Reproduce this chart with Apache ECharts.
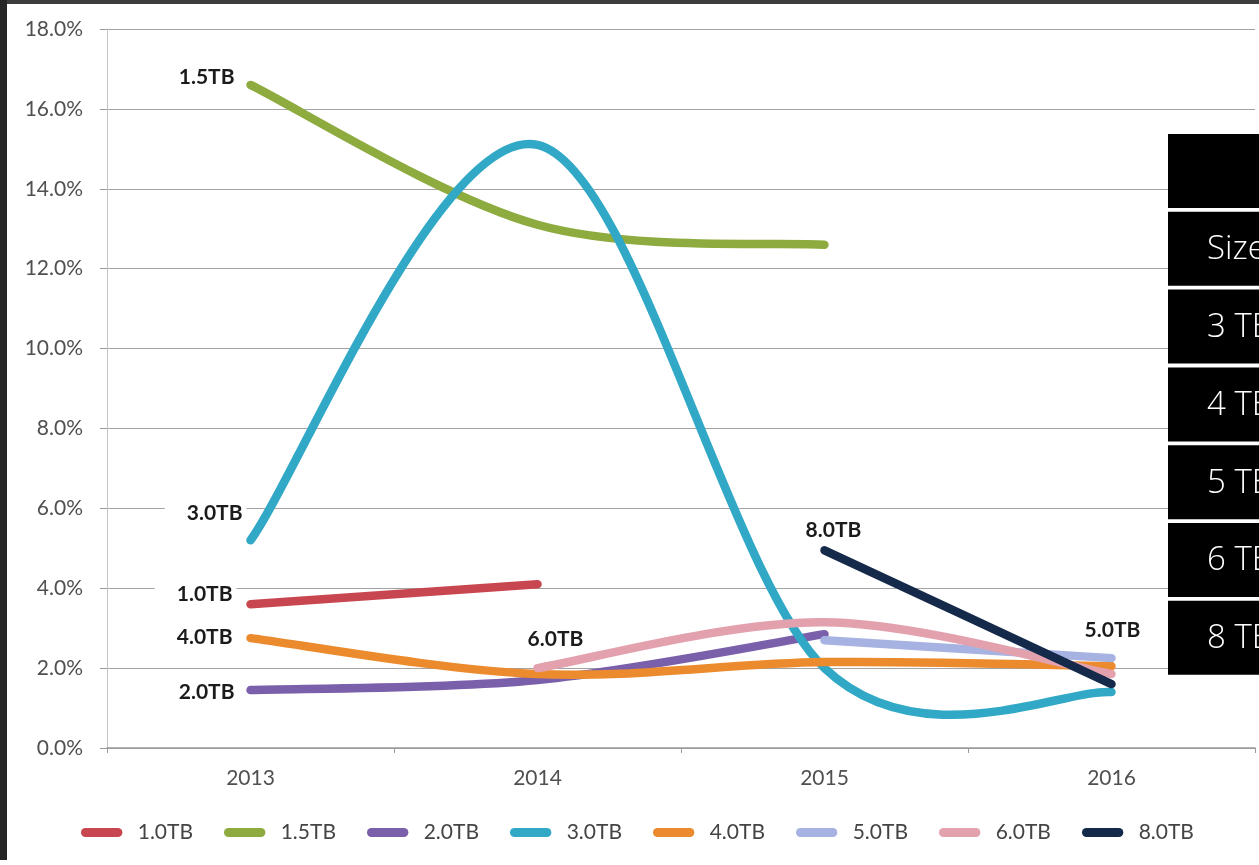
<!DOCTYPE html>
<html>
<head>
<meta charset="utf-8">
<title>Drive failure rate by capacity</title>
<script src="https://cdn.jsdelivr.net/npm/echarts@6/dist/echarts.min.js"></script>
<style>
  html, body { margin: 0; padding: 0; background: #fff; }
  #chart { width: 1259px; height: 865px; }
</style>
</head>
<body>
<div id="chart"></div>
<script>
// ---- data -------------------------------------------------------------
const years = ['2013', '2014', '2015', '2016'];
const capacities = ['1.0TB', '1.5TB', '2.0TB', '3.0TB', '4.0TB', '5.0TB', '6.0TB', '8.0TB'];

// annual failure rate (%) per drive size, null = no drives that year
const rate1TB  = [3.6, 4.1, null, null];
const rate15TB = [16.6, 13.1, 12.6, null];
const rate2TB  = [1.45, 1.7, 2.85, null];
const rate3TB  = [5.2, 15.1, 2.0, 1.4];
const rate4TB  = [2.75, 1.85, 2.15, 2.05];
const rate5TB  = [null, null, 2.7, 2.25];
const rate6TB  = [null, 2.0, 3.15, 1.85];
const rate8TB  = [null, null, 4.95, 1.6];

const yTickValues = [0, 2, 4, 6, 8, 10, 12, 14, 16, 18];
const tableRows = ['', 'Size', '3 TB', '4 TB', '5 TB', '6 TB', '8 TB'];

// ---- styling ----------------------------------------------------------
const rates = [rate1TB, rate15TB, rate2TB, rate3TB, rate4TB, rate5TB, rate6TB, rate8TB];
const colors = ['#c8464f', '#8dab3e', '#7a5fab', '#30a8c6', '#ec8b2e', '#a6b2e1', '#e3a1ae', '#15294a'];

// which point each name tag sits beside, and how it is offset from it
const tagPlacement = [
  { at: 0, dx: -14, dy: -10, align: 'right' },
  { at: 0, dx: -12, dy: -8,  align: 'right' },
  { at: 0, dx: -12, dy: 2,   align: 'right' },
  { at: 0, dx: -4,  dy: -27, align: 'right' },
  { at: 0, dx: -14, dy: -1,  align: 'right' },
  { at: 3, dx: -8,  dy: -28, align: 'center' },
  { at: 1, dx: 9,   dy: -29, align: 'center' },
  { at: 2, dx: 0,   dy: -20, align: 'center' }
];

const AXIS_FONT = 'Lato';
const PILL = 'path://M5,0 L41,0 A5,5 0 0 1 41,10 L5,10 A5,5 0 0 1 5,0 Z';

// Excel-style smoothed line: cubic Bezier segments with Catmull-Rom tangents
function smoothPath(pts) {
  let d = 'M' + pts[0][0] + ' ' + pts[0][1];
  for (let i = 0; i < pts.length - 1; i++) {
    const p0 = pts[Math.max(i - 1, 0)];
    const p1 = pts[i];
    const p2 = pts[i + 1];
    const p3 = pts[Math.min(i + 2, pts.length - 1)];
    const c1x = p1[0] + (p2[0] - p0[0]) / 6;
    const c1y = p1[1] + (p2[1] - p0[1]) / 6;
    const c2x = p2[0] - (p3[0] - p1[0]) / 6;
    const c2y = p2[1] - (p3[1] - p1[1]) / 6;
    d += ' C' + c1x + ' ' + c1y + ' ' + c2x + ' ' + c2y + ' ' + p2[0] + ' ' + p2[1];
  }
  return d;
}

function buildSeries(name, values, color, tag) {
  const points = [];
  values.forEach((v, i) => { if (v != null) points.push([i, v]); });
  return {
    type: 'custom',
    name: name,
    coordinateSystem: 'cartesian2d',
    data: points,
    encode: { x: 0, y: 1 },
    itemStyle: { color: color },
    renderItem: function (params, api) {
      if (params.dataIndex !== 0) return null;
      const px = points.map(p => api.coord(p));
      const anchor = api.coord([tag.at, values[tag.at]]);
      return {
        type: 'group',
        children: [
          {
            type: 'path',
            shape: { pathData: smoothPath(px) },
            style: { fill: 'none', stroke: color, lineWidth: 8.5, lineCap: 'round', lineJoin: 'round' }
          },
          {
            type: 'text',
            x: anchor[0] + tag.dx,
            y: anchor[1] + tag.dy,
            style: {
              text: name,
              fill: '#1b1b1b',
              fontFamily: AXIS_FONT,
              fontWeight: 'bold',
              fontSize: 21,
              align: tag.align,
              verticalAlign: 'middle',
              backgroundColor: '#fff',
              padding: [3, 4, 3, 22]
            }
          }
        ]
      };
    }
  };
}

// side table cells (partially cut off at the right edge)
const tableGraphics = [];
tableRows.forEach((label, i) => {
  const top = 134 + i * 77.8;
  tableGraphics.push({
    type: 'rect', left: 1168, top: top, z: 100,
    shape: { width: 100, height: 74 },
    style: { fill: '#000' }
  });
  if (label) {
    tableGraphics.push({
      type: 'text', x: 1207, y: top + 38, z: 101,
      style: { text: label, fill: '#fff', fontFamily: 'Open Sans', fontWeight: 300, fontSize: 33, align: 'left', verticalAlign: 'middle' }
    });
  }
});

const chart = echarts.init(document.getElementById('chart'), null, { renderer: 'canvas' });

chart.setOption({
  backgroundColor: '#ffffff',
  animation: false,
  color: colors,
  grid: { left: 107, right: 4, top: 29, bottom: 117, containLabel: false },
  legend: {
    data: capacities,
    left: 76,
    top: 817,
    icon: PILL,
    itemWidth: 46,
    itemHeight: 9,
    itemGap: 31,
    textStyle: { fontFamily: AXIS_FONT, fontSize: 21, color: '#444', width: 58, padding: [0, 0, 0, 8] }
  },
  xAxis: {
    type: 'category',
    data: years,
    boundaryGap: true,
    axisLine: { lineStyle: { color: '#9a9a9a', width: 1.5 } },
    axisTick: { show: true, length: 5, lineStyle: { color: '#9a9a9a' } },
    axisLabel: { margin: 20, fontFamily: AXIS_FONT, fontSize: 21, color: '#505050' }
  },
  yAxis: {
    type: 'value',
    min: yTickValues[0],
    max: yTickValues[yTickValues.length - 1],
    interval: yTickValues[1] - yTickValues[0],
    axisLine: { show: true, lineStyle: { color: '#c4c4c4', width: 1 } },
    axisTick: { show: true, length: 7, lineStyle: { color: '#9a9a9a' } },
    splitLine: { lineStyle: { color: '#a3a3a3', width: 1 } },
    axisLabel: {
      margin: 24,
      fontFamily: AXIS_FONT, fontSize: 21, color: '#505050',
      formatter: v => v.toFixed(1) + '%'
    }
  },
  graphic: [
    { type: 'rect', left: 0, top: 0, z: 100, shape: { width: 1259, height: 4 }, style: { fill: '#3c3c3c' } },
    { type: 'rect', left: 0, top: 0, z: 100, shape: { width: 7, height: 860 }, style: { fill: '#262626' } }
  ].concat(tableGraphics),
  series: capacities.map((name, i) => buildSeries(name, rates[i], colors[i], tagPlacement[i]))
});
</script>
</body>
</html>
